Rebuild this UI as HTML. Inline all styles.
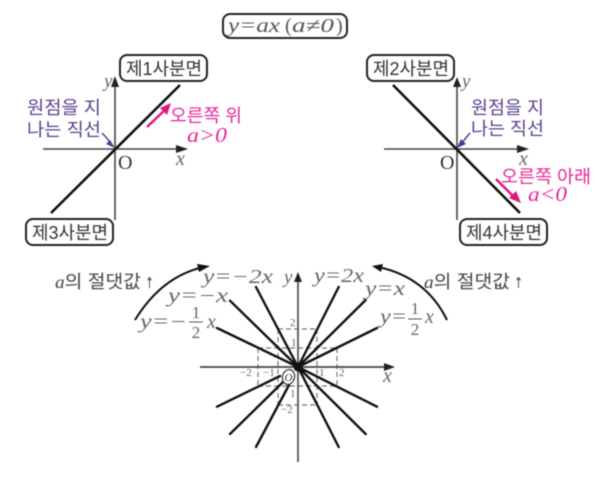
<!DOCTYPE html>
<html>
<head>
<meta charset="utf-8">
<style>
html,body{margin:0;padding:0;background:#fff;width:604px;height:482px;overflow:hidden}
svg{display:block;filter:blur(.5px)}
.k{font-family:"Liberation Sans","Noto Sans CJK KR",sans-serif}
.m{font-family:"Liberation Serif","DejaVu Serif",serif;font-style:italic}
.r{font-family:"Liberation Serif","DejaVu Serif",serif}
</style>
</head>
<body>
<svg width="604" height="482" viewBox="0 0 604 482" xmlns="http://www.w3.org/2000/svg">
<rect width="604" height="482" fill="#fff"/>

<!-- top formula -->
<rect x="223" y="14" width="124" height="24" rx="7" fill="#fff" stroke="#222" stroke-width="2"/>
<g class="m" font-size="20" fill="#555">
<text x="228" y="32" textLength="52" lengthAdjust="spacingAndGlyphs">y=ax</text>
<text x="285" y="32" class="r" font-style="normal">(</text>
<text x="292" y="32" textLength="42" lengthAdjust="spacingAndGlyphs">a≠0</text>
<text x="336" y="32" class="r" font-style="normal">)</text>
</g>

<!-- left graph -->
<g>
<line x1="43" y1="149" x2="186" y2="149" stroke="#444" stroke-width="1.6"/>
<path d="M176,145L188,149L176,153z" fill="#222"/>
<line x1="115" y1="220" x2="115" y2="80" stroke="#444" stroke-width="1.6"/>
<path d="M111,87L115,76L119,87z" fill="#222"/>
<line x1="51" y1="213" x2="180" y2="85" stroke="#111" stroke-width="2.6"/>
<text x="104" y="87" class="m" font-size="19" fill="#666">y</text>
<text x="176" y="165" class="m" font-size="20" fill="#666">x</text>
<text x="118" y="169" class="r" font-size="20" fill="#333">O</text>
<rect x="120" y="55" width="87" height="26" rx="7" fill="#fff" stroke="#222" stroke-width="2"/>
<text x="126" y="75" class="k" font-size="18" fill="#333" textLength="76" lengthAdjust="spacingAndGlyphs">제1사분면</text>
<rect x="26" y="219" width="87" height="26" rx="7" fill="#fff" stroke="#222" stroke-width="2"/>
<text x="32" y="239" class="k" font-size="18" fill="#333" textLength="76" lengthAdjust="spacingAndGlyphs">제3사분면</text>
<text x="27" y="114" class="k" font-size="18" fill="#5b3f8f" textLength="74" lengthAdjust="spacingAndGlyphs">원점을 지</text>
<text x="27" y="136" class="k" font-size="18" fill="#5b3f8f" textLength="74" lengthAdjust="spacingAndGlyphs">나는 직선</text>
<path d="M102,133Q108,139 112,145" fill="none" stroke="#4b3a8f" stroke-width="1.4"/>
<path d="M115,148L106,144L110,140z" fill="#4b3a8f"/>
<line x1="147" y1="127" x2="167" y2="108" stroke="#e0157f" stroke-width="2.4"/>
<path d="M171,103L167,115L160,108z" fill="#e0157f"/>
<text x="170" y="122" class="k" font-size="18" fill="#e8259a" textLength="72" lengthAdjust="spacingAndGlyphs">오른쪽 위</text>
<text x="187" y="142" class="m" font-size="21" fill="#e8259a" textLength="40" lengthAdjust="spacingAndGlyphs">a&gt;0</text>
</g>

<!-- right graph -->
<g>
<line x1="384" y1="149" x2="526" y2="149" stroke="#444" stroke-width="1.6"/>
<path d="M517,145L529,149L517,153z" fill="#222"/>
<line x1="457" y1="220" x2="457" y2="82" stroke="#444" stroke-width="1.6"/>
<path d="M453,87L457,77L461,87z" fill="#222"/>
<line x1="393" y1="85" x2="520" y2="213" stroke="#111" stroke-width="2.6"/>
<text x="462" y="87" class="m" font-size="19" fill="#666">y</text>
<text x="519" y="165" class="m" font-size="20" fill="#666">x</text>
<text x="440" y="169" class="r" font-size="20" fill="#333">O</text>
<rect x="367" y="55" width="87" height="26" rx="7" fill="#fff" stroke="#222" stroke-width="2"/>
<text x="373" y="75" class="k" font-size="18" fill="#333" textLength="76" lengthAdjust="spacingAndGlyphs">제2사분면</text>
<rect x="460" y="219" width="87" height="26" rx="7" fill="#fff" stroke="#222" stroke-width="2"/>
<text x="466" y="239" class="k" font-size="18" fill="#333" textLength="76" lengthAdjust="spacingAndGlyphs">제4사분면</text>
<text x="471" y="114" class="k" font-size="18" fill="#5b3f8f" textLength="73" lengthAdjust="spacingAndGlyphs">원점을 지</text>
<text x="471" y="135" class="k" font-size="18" fill="#5b3f8f" textLength="73" lengthAdjust="spacingAndGlyphs">나는 직선</text>
<path d="M470,133Q465,139 461,144" fill="none" stroke="#4b3a8f" stroke-width="1.4"/>
<path d="M457,148L461,139L466,144z" fill="#4b3a8f"/>
<line x1="496" y1="179" x2="515" y2="198" stroke="#e0157f" stroke-width="2.4"/>
<path d="M521,203L509,198L516,191z" fill="#e0157f"/>
<text x="501" y="183" class="k" font-size="18" fill="#e8259a" textLength="90" lengthAdjust="spacingAndGlyphs">오른쪽 아래</text>
<text x="528" y="201" class="m" font-size="21" fill="#e8259a" textLength="39" lengthAdjust="spacingAndGlyphs">a&lt;0</text>
</g>

<!-- bottom graph dashes -->
<g fill="none" stroke="#777" stroke-width="1.2" stroke-dasharray="5 3">
<path d="M278,329H317M278,405H317M278,329V405M317,329V405"/>
<path d="M258,348H337M258,386H337M258,348V386M337,348V386"/>
</g>
<!-- bottom graph axes -->
<line x1="200" y1="367" x2="393" y2="367" stroke="#444" stroke-width="1.8"/>
<path d="M384,363L395,367L384,371z" fill="#222"/>
<line x1="298" y1="462" x2="298" y2="278" stroke="#555" stroke-width="1.8"/>
<path d="M294,282L298,272L302,282z" fill="#222"/>
<g stroke="#111" stroke-width="2.4" stroke-linecap="round">
<line x1="298" y1="367" x2="338.7" y2="287"/>
<line x1="298" y1="367" x2="365.7" y2="300"/>
<line x1="298" y1="367" x2="377" y2="328"/>
<line x1="298" y1="367" x2="338.7" y2="447"/>
<line x1="298" y1="367" x2="365.7" y2="434"/>
<line x1="298" y1="367" x2="377" y2="406.7"/>
<line x1="298" y1="367" x2="256" y2="287"/>
<line x1="298" y1="367" x2="230" y2="300.7"/>
<line x1="298" y1="367" x2="217" y2="328"/>
<line x1="289" y1="385" x2="256" y2="447"/>
<line x1="283" y1="382" x2="230" y2="434"/>
<line x1="280" y1="376" x2="217" y2="406.7"/>
</g>
<circle cx="298" cy="367" r="4.5" fill="#111"/>
<ellipse cx="288.5" cy="377" rx="6" ry="7.5" transform="rotate(15 288.5 377)" fill="#fff" stroke="#333" stroke-width="1.2"/>
<text x="288.5" y="381" text-anchor="middle" class="m" font-size="11" fill="#333">O</text>
<!-- tick labels -->
<g class="r" font-size="11" fill="#666">
<text x="290" y="326">2</text>
<text x="291" y="346">1</text>
<text x="240" y="376">−2</text>
<text x="263" y="376">−1</text>
<text x="319" y="376">1</text>
<text x="339" y="376">2</text>
<text x="290" y="397">1</text>
<text x="281" y="413">−2</text>
</g>
<text x="284" y="283" class="m" font-size="19" fill="#666">y</text>
<text x="383" y="382" class="m" font-size="20" fill="#666">x</text>

<!-- equations -->
<g class="m" font-size="20" fill="#666">
<text x="203" y="283" textLength="70" lengthAdjust="spacingAndGlyphs">y=−2x</text>
<text x="168" y="302" textLength="60" lengthAdjust="spacingAndGlyphs">y=−x</text>
<text x="140" y="328" textLength="47" lengthAdjust="spacingAndGlyphs">y=−</text>
<text x="207" y="328">x</text>
<text x="314" y="282" textLength="50" lengthAdjust="spacingAndGlyphs">y=2x</text>
<text x="365" y="295" textLength="40" lengthAdjust="spacingAndGlyphs">y=x</text>
<text x="380" y="323" textLength="27" lengthAdjust="spacingAndGlyphs">y=</text>
<text x="425" y="323">x</text>
</g>
<g class="r" font-size="17" fill="#666" text-anchor="middle">
<text x="196" y="318">1</text>
<text x="196" y="338">2</text>
<text x="415" y="314">1</text>
<text x="415" y="335">2</text>
</g>
<line x1="189" y1="322" x2="203" y2="322" stroke="#555" stroke-width="1"/>
<line x1="408" y1="319" x2="422" y2="319" stroke="#555" stroke-width="1"/>

<!-- abs value labels -->
<text x="55" y="288" class="k" font-size="18" fill="#444" textLength="86" lengthAdjust="spacingAndGlyphs"><tspan class="m">a</tspan>의 절댓값</text>
<text x="145" y="288" font-family="DejaVu Sans, sans-serif" font-size="15" fill="#444" textLength="9" lengthAdjust="spacingAndGlyphs">↑</text>
<text x="424" y="288" class="k" font-size="18" fill="#444" textLength="86" lengthAdjust="spacingAndGlyphs"><tspan class="m">a</tspan>의 절댓값</text>
<text x="514" y="288" font-family="DejaVu Sans, sans-serif" font-size="15" fill="#444" textLength="9" lengthAdjust="spacingAndGlyphs">↑</text>
<path d="M135,320Q162,276 204,267" fill="none" stroke="#111" stroke-width="2"/>
<path d="M210,266L199,272L197,264z" fill="#111"/>
<path d="M447,320Q426,277 378,267" fill="none" stroke="#111" stroke-width="2"/>
<path d="M372,266L383,264L381,272z" fill="#111"/>
</svg>
</body>
</html>
